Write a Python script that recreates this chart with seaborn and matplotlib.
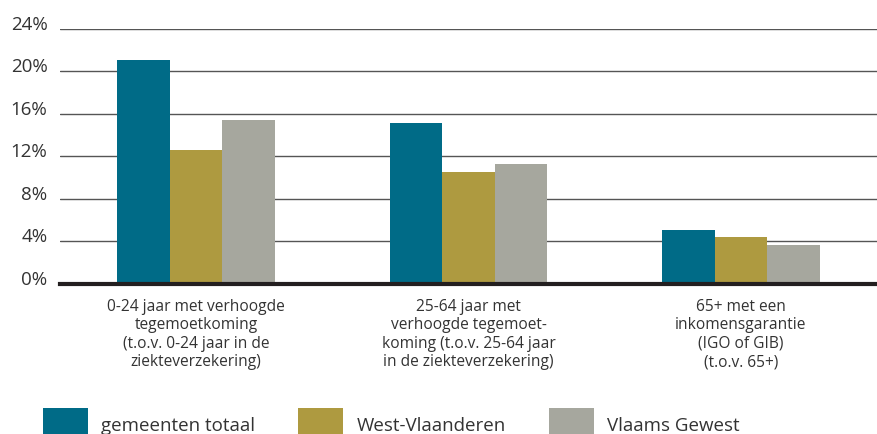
import pandas as pd
import matplotlib
matplotlib.use("Agg")
import matplotlib.pyplot as plt
import seaborn as sns

categories = [
    "0-24 jaar met verhoogde\ntegemoetkoming\n(t.o.v. 0-24 jaar in de\nziekteverzekering)",
    "25-64 jaar met\nverhoogde tegemoet-\nkoming (t.o.v. 25-64 jaar\nin de ziekteverzekering)",
    "65+ met een\ninkomensgarantie\n(IGO of GIB)\n(t.o.v. 65+)",
]
series_names = ["gemeenten totaal", "West-Vlaanderen", "Vlaams Gewest"]
gemeenten_totaal = [21.0, 15.1, 5.1]
west_vlaanderen = [12.6, 10.5, 4.4]
vlaams_gewest = [15.4, 11.3, 3.7]
y_ticks = [0, 4, 8, 12, 16, 20, 24]
colors = ["#006b87", "#ae9a40", "#a6a79e"]

rows = []
for name, values in zip(series_names, [gemeenten_totaal, west_vlaanderen, vlaams_gewest]):
    for cat, v in zip(categories, values):
        rows.append({"categorie": cat, "gebied": name, "waarde": v})
df = pd.DataFrame(rows)

sns.set_style("white")
plt.rcParams["font.family"] = ["Open Sans", "DejaVu Sans"]
text_color = "#333333"

fig = plt.figure(figsize=(8.77, 4.35), dpi=100)
ax = fig.add_axes([60 / 877, 1 - 285 / 435, 1 - 60 / 877, (285 - 29.5) / 435])

sns.barplot(data=df, x="categorie", y="waarde", hue="gebied", palette=colors,
            width=0.58, saturation=1, linewidth=0, ax=ax)

ax.set_xlim(-0.5, 2.5)
ax.set_ylim(0, 24)
ax.set_yticks(y_ticks)
ax.set_yticklabels([f"{t}%" for t in y_ticks], fontsize=13.5, color=text_color)
for lab in ax.get_yticklabels():
    lab.set_verticalalignment("baseline")
ax.tick_params(axis="y", length=0, pad=9)
ax.tick_params(axis="x", length=0, pad=10)
for lab in ax.get_xticklabels():
    lab.set_fontsize(11.2)
    lab.set_color(text_color)
    lab.set_linespacing(1.2)
ax.set_xlabel("")
ax.set_ylabel("")

ax.yaxis.grid(True, color="#555555", linewidth=1)
ax.set_axisbelow(True)
for s in ["top", "right", "left"]:
    ax.spines[s].set_visible(False)
ax.spines["bottom"].set_linewidth(3)
ax.spines["bottom"].set_color("#231f20")

handles, labels = ax.get_legend_handles_labels()
ax.get_legend().remove()
fig.legend(handles, labels, loc="upper left", bbox_to_anchor=(43 / 877, 1 - 409 / 435),
           ncol=3, frameon=False, fontsize=13.5, handlelength=2.4, handleheight=2.2,
           handletextpad=0.7, columnspacing=2.3, labelcolor=text_color,
           borderaxespad=0, borderpad=0)

fig.savefig("out.png", dpi=100)
